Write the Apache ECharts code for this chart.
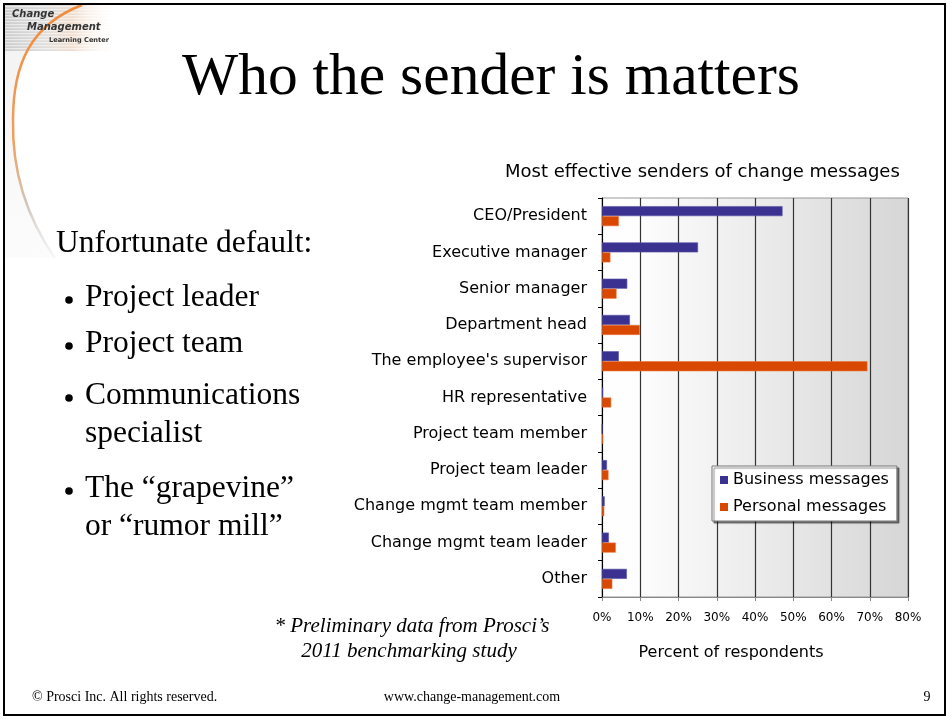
<!DOCTYPE html>
<html>
<head>
<meta charset="utf-8">
<script src="https://cdn.jsdelivr.net/npm/echarts@6/dist/echarts.min.js"></script>
<style>html,body{margin:0;padding:0;background:#fff;}#chart{width:949px;height:719px;}</style>
</head>
<body>
<div id="chart"></div>
<script>
// ---- data ----
const categories = ['CEO/President', 'Executive manager', 'Senior manager', 'Department head',
  "The employee's supervisor", 'HR representative', 'Project team member', 'Project team leader',
  'Change mgmt team member', 'Change mgmt team leader', 'Other'];
const businessMessages = [47.2, 25.1, 6.6, 7.3, 4.4, 0.3, 0, 1.3, 0.7, 1.8, 6.5];
const personalMessages = [4.4, 2.2, 3.8, 9.9, 69.4, 2.4, 0.3, 1.7, 0.6, 3.6, 2.7];
const seriesNames = ['Business messages', 'Personal messages'];
const xTicks = [0, 10, 20, 30, 40, 50, 60, 70, 80];
const slideTitle = 'Who the sender is matters';
const chartTitle = 'Most effective senders of change messages';
const axisName = 'Percent of respondents';
const bulletLines = [
  {t: 'Unfortunate default:', x: 56, y: 244, b: false},
  {t: 'Project leader', x: 85, y: 298, b: true},
  {t: 'Project team', x: 85, y: 344, b: true},
  {t: 'Communications', x: 85, y: 396, b: true},
  {t: 'specialist', x: 85, y: 434, b: false},
  {t: 'The \u201cgrapevine\u201d', x: 85, y: 489, b: true},
  {t: 'or \u201crumor mill\u201d', x: 85, y: 527, b: false}
];

const serif = '"Liberation Serif","Times New Roman",serif';
const sans = '"DejaVu Sans",sans-serif';

const chart = echarts.init(document.getElementById('chart'), null, {renderer: 'canvas'});

// decorative logo curve helpers
const seg1 = [[82, 5], [30, 25], [13, 65], [13, 120]];
const seg2 = [[13, 120], [12, 170], [25, 215], [55, 258]];
function sample(seg, n) {
  const pts = [];
  for (let i = 0; i <= n; i++) {
    const t = i / n, u = 1 - t;
    const a = u * u * u, b = 3 * u * u * t, c = 3 * u * t * t, d = t * t * t;
    pts.push([a * seg[0][0] + b * seg[1][0] + c * seg[2][0] + d * seg[3][0],
              a * seg[0][1] + b * seg[1][1] + c * seg[2][1] + d * seg[3][1]]);
  }
  return pts;
}
const curvePts = sample(seg1, 20).concat(sample(seg2, 20).slice(1));

const graphics = [];
// logo stripes
graphics.push({type: 'rect', shape: {x: 5, y: 5, width: 110, height: 46},
  style: {fill: new echarts.graphic.LinearGradient(0, 0, 1, 0, [
    {offset: 0, color: 'rgba(190,190,190,0.9)'}, {offset: 0.6, color: 'rgba(225,225,225,0.6)'}, {offset: 1, color: 'rgba(255,255,255,0)'}])}, z: 1});
for (let i = 0; i < 15; i++) {
  graphics.push({type: 'rect', shape: {x: 5, y: 6 + i * 3, width: 110, height: 1.2},
    style: {fill: 'rgba(255,255,255,0.55)'}, z: 2});
}
// orange tint right of the arc near the top
graphics.push({type: 'rect', shape: {x: 40, y: 5, width: 80, height: 46},
  style: {fill: new echarts.graphic.LinearGradient(0, 0, 1, 0, [
    {offset: 0, color: 'rgba(245,170,110,0.0)'}, {offset: 0.4, color: 'rgba(245,170,110,0.25)'}, {offset: 1, color: 'rgba(255,255,255,0)'}])}, z: 1});
// light shading left of arc
graphics.push({type: 'polygon', shape: {points: curvePts.concat([[5, 258], [5, 5]])},
  style: {fill: new echarts.graphic.LinearGradient(0, 0, 1, 1, [
    {offset: 0, color: 'rgba(215,215,215,0.35)'}, {offset: 1, color: 'rgba(240,240,240,0.2)'}])}, z: 1});
// arc
const arcStroke = function () {
  return new echarts.graphic.LinearGradient(0, 5, 0, 258, [
    {offset: 0, color: '#ef8a3a'}, {offset: 0.55, color: '#f0a060'}, {offset: 0.8, color: '#d0c8c0'}, {offset: 1, color: 'rgba(220,220,220,0.2)'}], true);
};
[seg1, seg2].forEach(function (s) {
  graphics.push({type: 'bezierCurve', shape: {x1: s[0][0], y1: s[0][1], cpx1: s[1][0], cpy1: s[1][1], cpx2: s[2][0], cpy2: s[2][1], x2: s[3][0], y2: s[3][1]},
    style: {fill: null, lineWidth: 2.5, stroke: arcStroke()}, z: 3});
});
// logo text
graphics.push({type: 'text', x: 12, y: 9, style: {text: 'Change', font: 'italic bold 10px ' + sans, fill: '#333'}, z: 4});
graphics.push({type: 'text', x: 27, y: 22, style: {text: 'Management', font: 'italic bold 10px ' + sans, fill: '#333'}, z: 4});
graphics.push({type: 'text', x: 49, y: 37, style: {text: 'Learning Center', font: 'bold 6.6px ' + sans, fill: '#333'}, z: 4});
// slide title
graphics.push({type: 'text', x: 491, y: 78, style: {text: slideTitle, font: '59.5px ' + serif, fill: '#000', textAlign: 'center', textVerticalAlign: 'middle'}, z: 4});
// bullets
bulletLines.forEach(function (l) {
  graphics.push({type: 'text', x: l.x, y: l.y, style: {text: l.t, font: '31.5px ' + serif, fill: '#000', textVerticalAlign: 'middle'}, z: 4});
  if (l.b) {
    graphics.push({type: 'circle', shape: {cx: 69, cy: l.y + 2, r: 3.8}, style: {fill: '#000'}, z: 4});
  }
});
// footnote
graphics.push({type: 'text', x: 412, y: 626, style: {text: '* Preliminary data from Prosci\u2019s', font: 'italic 21px ' + serif, fill: '#000', textAlign: 'center', textVerticalAlign: 'middle'}, z: 4});
graphics.push({type: 'text', x: 409, y: 651, style: {text: '2011 benchmarking study', font: 'italic 21px ' + serif, fill: '#000', textAlign: 'center', textVerticalAlign: 'middle'}, z: 4});
// axis name
graphics.push({type: 'text', x: 731, y: 653, style: {text: axisName, font: '16px ' + sans, fill: '#000', textAlign: 'center', textVerticalAlign: 'middle'}, z: 4});
// footer
graphics.push({type: 'text', x: 32, y: 697, style: {text: '\u00a9 Prosci Inc. All rights reserved.', font: '14px ' + serif, fill: '#000', textVerticalAlign: 'middle'}, z: 4});
graphics.push({type: 'text', x: 472, y: 697, style: {text: 'www.change-management.com', font: '14px ' + serif, fill: '#000', textAlign: 'center', textVerticalAlign: 'middle'}, z: 4});
graphics.push({type: 'text', x: 927, y: 697, style: {text: '9', font: '14px ' + serif, fill: '#000', textAlign: 'center', textVerticalAlign: 'middle'}, z: 4});
// slide frame
graphics.push({type: 'rect', shape: {x: 4, y: 4, width: 941, height: 711}, style: {fill: null, stroke: '#000', lineWidth: 2}, z: 10});

const option = {
  animation: false,
  backgroundColor: '#ffffff',
  title: {
    text: chartTitle, left: 505, top: 163, padding: 0,
    textStyle: {fontFamily: sans, fontSize: 18, fontWeight: 'normal', color: '#000'}
  },
  legend: {
    data: seriesNames, orient: 'vertical', left: 712, top: 466,
    padding: [5, 8, 5, 8], itemWidth: 8, itemHeight: 8, itemGap: 9,
    icon: 'rect', backgroundColor: '#fff', borderColor: '#777', borderWidth: 1,
    shadowColor: 'rgba(0,0,0,0.45)', shadowOffsetX: 2, shadowOffsetY: 2, shadowBlur: 1,
    itemStyle: {borderWidth: 0},
    textStyle: {fontFamily: sans, fontSize: 16, color: '#000', lineHeight: 18}
  },
  grid: {
    left: 602, right: 41, top: 198, bottom: 122, containLabel: false, outerBoundsMode: 'none',
    show: true, borderColor: '#999', borderWidth: 1,
    backgroundColor: new echarts.graphic.LinearGradient(0, 0, 1, 0, [
      {offset: 0, color: '#ffffff'}, {offset: 0.12, color: '#fdfdfd'}, {offset: 1, color: '#d6d6d6'}])
  },
  xAxis: {
    type: 'value', min: xTicks[0], max: xTicks[xTicks.length - 1], interval: 10,
    axisLine: {show: true, lineStyle: {color: '#888', width: 1}},
    axisTick: {show: true, length: 4, lineStyle: {color: '#888'}},
    axisLabel: {formatter: '{value}%', fontFamily: sans, fontSize: 12, color: '#000', margin: 15},
    splitLine: {show: true, lineStyle: {color: '#333', width: 1.2}}
  },
  yAxis: {
    type: 'category', data: categories, inverse: true,
    axisLine: {show: true, lineStyle: {color: '#000', width: 1}},
    axisTick: {show: true, length: 4, lineStyle: {color: '#000'}},
    axisLabel: {fontFamily: sans, fontSize: 16, color: '#000', margin: 15},
    splitLine: {show: false}
  },
  series: [
    {name: seriesNames[0], type: 'bar', data: businessMessages, barWidth: 10, barGap: '0%',
      itemStyle: {color: '#3a3191', borderColor: '#5b54a8', borderWidth: 0.6}},
    {name: seriesNames[1], type: 'bar', data: personalMessages, barWidth: 10, barGap: '0%',
      itemStyle: {color: '#d94800', borderColor: '#e8763a', borderWidth: 0.6}}
  ],
  graphic: graphics
};
chart.setOption(option);
</script>
</body>
</html>
